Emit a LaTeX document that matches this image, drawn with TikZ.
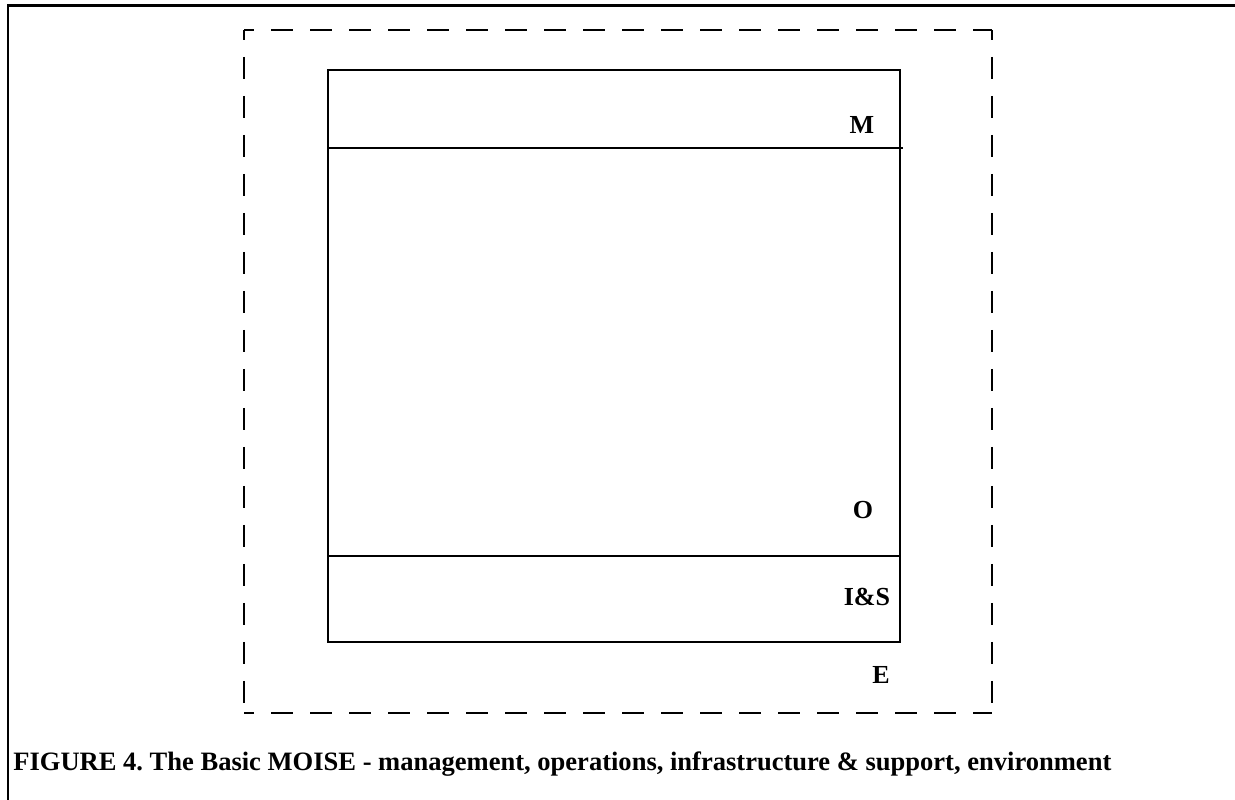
\documentclass[tikz,border=0pt]{standalone}
\usepackage{fontspec}
\setmainfont{Liberation Serif}
\usepackage{tikz}
\usetikzlibrary{positioning}
\frenchspacing

\begin{document}
\begin{tikzpicture}
  % Variables
  \def \boxw   {11.44}
  \def \envw   {14.96}
  \def \envh   {13.66}

  \useasboundingbox (0,0) rectangle (24.7,16);

  % Frame
  \draw [line width=1.7pt] (24.7,15.88) -- (0.16,15.88) -- (0.16,0);

  % Environment (dashed)
  \node[rectangle, inner sep=0pt, outer sep=0pt, minimum width=\envw cm, minimum height=\envh cm] (env) at (12.36,8.57) {};
  \tikzset{envline/.style={line width=1.1pt, dash pattern=on 0.44cm off 0.34cm, dash phase=0.24cm}}
  \draw[envline] (env.north west) -- (env.north east);
  \draw[envline] (env.north west) -- (env.south west);
  \draw[envline] (env.south west) -- (env.south east);
  \draw[envline] (env.north east) -- (env.south east);

  % Rectangles
  \node[rectangle, draw, line width=1.1pt, inner sep=0pt, outer sep=0pt, minimum width=\boxw cm, minimum height=1.56cm] (mgmt) at (12.28,13.82) {};
  \node[rectangle, draw, line width=1.1pt, inner sep=0pt, outer sep=0pt, minimum width=\boxw cm, minimum height=8.16cm, below=0pt of mgmt] (ops) {};
  \node[rectangle, draw, line width=1.1pt, inner sep=0pt, outer sep=0pt, minimum width=\boxw cm, minimum height=1.72cm, below=0pt of ops] (infra) {};
  \draw[line width=1.1pt] (mgmt.south east) -- ++(0.06,0);

  % Labels
  \node[font=\bfseries\fontsize{14.8}{17}\selectfont] (mlab) at (17.24,13.5) {M};
  \node[font=\bfseries\fontsize{14.8}{17}\selectfont] (olab) at (17.26,5.8) {O};
  \node[font=\bfseries\fontsize{14.8}{17}\selectfont] (islab) at (17.34,4.06) {I\&S};
  \node[font=\bfseries\fontsize{14.8}{17}\selectfont] (elab) at (17.62,2.5) {E};

  % Caption
  \node[anchor=base west, inner sep=0pt, font=\bfseries\fontsize{15.1}{18}\selectfont] (caption) at (0.26,0.58)
    {FIGURE 4. The Basic MOISE - management, operations, infrastructure \& support, environment};

\end{tikzpicture}
\end{document}
